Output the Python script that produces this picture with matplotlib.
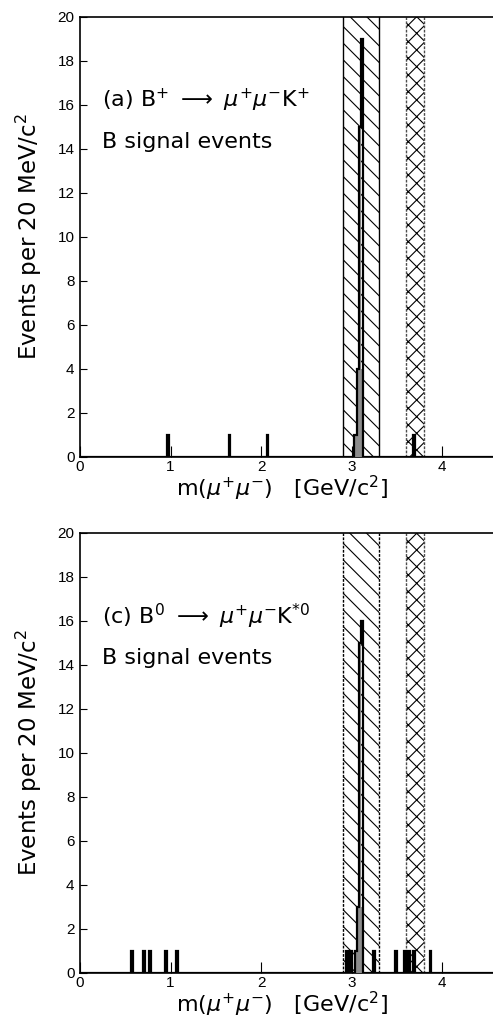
import numpy as np
import matplotlib
matplotlib.use("Agg")
import matplotlib.pyplot as plt

plt.rcParams['font.family'] = ['DejaVu Sans']
plt.rcParams['mathtext.fontset'] = 'dejavusans'
plt.rcParams['hatch.linewidth'] = 0.8

# ---------------- data ----------------
bin_width = 0.02  # GeV
x_ticks = [0, 1, 2, 3, 4]
y_ticks = [0, 2, 4, 6, 8, 10, 12, 14, 16, 18, 20]

# panel (a): B+ -> mu+ mu- K+
a_centers = [0.97, 1.65, 2.07, 3.03, 3.05, 3.07, 3.09, 3.11, 3.69]
a_counts = [1, 1, 1, 1, 1, 4, 15, 19, 1]
a_gray_centers = [3.03, 3.05, 3.07, 3.09, 3.11]
a_gray_counts = [1, 1, 4, 15, 4]

# panel (c): B0 -> mu+ mu- K*0
c_centers = [0.57, 0.71, 0.77, 0.95, 1.07, 2.95, 2.99, 3.05, 3.07, 3.09,
             3.11, 3.25, 3.49, 3.59, 3.63, 3.69, 3.87]
c_counts = [1, 1, 1, 1, 1, 1, 1, 1, 3, 15, 16, 1, 1, 1, 1, 1, 1]
c_gray_centers = [3.05, 3.07, 3.09, 3.11, 3.69]
c_gray_counts = [1, 3, 15, 3, 1]

jpsi_veto = (2.90, 3.30)
psi2s_veto = (3.60, 3.80)

labels = [r"(a) B$^{+}$ $\longrightarrow$ $\mu^{+}\mu^{-}$K$^{+}$",
          r"(c) B$^{0}$ $\longrightarrow$ $\mu^{+}\mu^{-}$K$^{*0}$"]
sub_label = "B signal events"
xlabel = r"m($\mu^{+}\mu^{-}$)   [GeV/c$^{2}$]"
ylabel = r"Events per 20 MeV/c$^{2}$"

edges = np.round(np.arange(0, 4.62 + 1e-9, bin_width), 4)

W, H = 493, 1026
fig = plt.figure(figsize=(W / 100, H / 100), dpi=100)

panels = [
    (a_centers, a_counts, a_gray_centers, a_gray_counts, labels[0], (17, 457), '-'),
    (c_centers, c_counts, c_gray_centers, c_gray_counts, labels[1], (533, 973), (0, (2, 1))),
]

left_px = 80
for centers, counts, gc, gcounts, lab, (top_px, bot_px), edge_ls in panels:
    ax = fig.add_axes([left_px / W, 1 - bot_px / H, (W - left_px) / W, (bot_px - top_px) / H])
    ax.set_xlim(0, 4.56)
    ax.set_ylim(0, 20)

    # veto regions
    ax.axvspan(*jpsi_veto, facecolor='none', edgecolor='black', hatch='\\\\',
               linewidth=0, zorder=1)
    ax.axvspan(*psi2s_veto, facecolor='none', edgecolor='black', hatch='xx',
               linewidth=0, zorder=1)
    for xv in jpsi_veto:
        ax.axvline(xv, color='black', lw=1.0, ls=edge_ls, zorder=2)
    for xv in psi2s_veto:
        ax.axvline(xv, color='0.3', lw=1.0, ls=(0, (2, 1)), zorder=2)

    ax.hist(gc, bins=edges, weights=gcounts, histtype='stepfilled',
            color='0.55', zorder=3)
    ax.hist(centers, bins=edges, weights=counts, histtype='step',
            color='black', lw=1.6, zorder=4)

    ax.text(0.24, 16.2, lab, fontsize=16, va='center', ha='left')
    ax.text(0.24, 14.3, sub_label, fontsize=16, va='center', ha='left')

    ax.set_xticks(x_ticks)
    ax.set_yticks(y_ticks)
    ax.tick_params(axis='x', direction='in', length=8, width=0.8, labelsize=11, pad=2)
    ax.tick_params(axis='y', direction='in', length=5, width=0.8, labelsize=11, pad=4)
    for t in ax.get_xticklabels() + ax.get_yticklabels():
        t.set_fontfamily('Liberation Sans')
    ax.spines['right'].set_visible(False)
    for s in ['left', 'bottom', 'top']:
        ax.spines[s].set_linewidth(1.2)
    ax.set_xlabel(xlabel, fontsize=16, labelpad=0, x=0.49)
    ax.set_ylabel(ylabel, fontsize=16.5, labelpad=10)

fig.savefig("out.png", dpi=100)
